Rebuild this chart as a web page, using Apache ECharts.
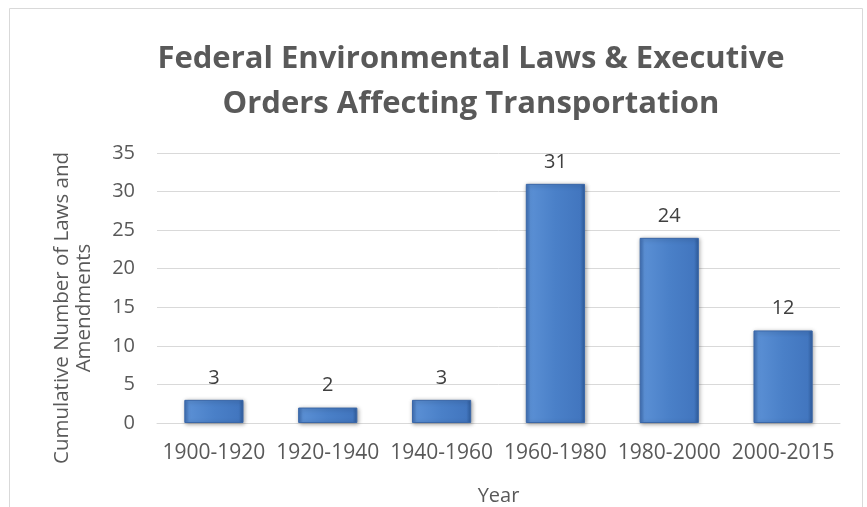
<!DOCTYPE html>
<html>
<head>
<meta charset="utf-8">
<script src="https://cdn.jsdelivr.net/npm/echarts@6/dist/echarts.min.js"></script>
<style>
  html, body { margin: 0; padding: 0; background: #fff; }
  #chart { width: 867px; height: 507px; }
</style>
</head>
<body>
<div id="chart"></div>
<script>
// 数据
const periods = ['1900-1920', '1920-1940', '1940-1960', '1960-1980', '1980-2000', '2000-2015']
const lawCounts = [3, 2, 3, 31, 24, 12]
const yTicks = { min: 0, max: 35, interval: 5 }

const myChart = echarts.init(document.getElementById('chart'))
const font = 'Open Sans'
const textColor = '#595959'

const barColor = new echarts.graphic.LinearGradient(0, 0, 1, 0, [
  { offset: 0, color: '#3f6fb5' },
  { offset: 0.08, color: '#5a8fd4' },
  { offset: 0.5, color: '#4a80c8' },
  { offset: 0.92, color: '#4276bf' },
  { offset: 1, color: '#2f5d9e' }
])

var option = {
  backgroundColor: '#fff',
  animation: false,
  title: {
    text: 'Federal Environmental Laws & Executive\nOrders Affecting Transportation',
    left: 466,
    top: 32,
    textAlign: 'center',
    textStyle: {
      fontFamily: font,
      fontWeight: 'bold',
      fontSize: 31,
      lineHeight: 45,
      color: textColor
    }
  },
  graphic: [
    {
      type: 'rect',
      shape: { x: 9.5, y: 8.5, width: 853, height: 520 },
      style: { fill: 'none', stroke: '#d9d9d9', lineWidth: 1 },
      silent: true
    }
  ],
  grid: { left: 157, right: 27, top: 153, bottom: 84, outerBoundsMode: 'none' },
  xAxis: {
    type: 'category',
    data: periods,
    name: 'Year',
    nameLocation: 'middle',
    nameGap: 63,
    nameTextStyle: { fontFamily: font, fontSize: 20, color: textColor },
    axisLine: { lineStyle: { color: '#d9d9d9', width: 1 } },
    axisTick: { show: false },
    axisLabel: { interval: 0, fontFamily: font, fontSize: 21, color: textColor, margin: 20 }
  },
  yAxis: {
    type: 'value',
    min: yTicks.min,
    max: yTicks.max,
    interval: yTicks.interval,
    name: 'Cumulative Number of Laws and\nAmendments',
    nameLocation: 'middle',
    nameGap: 62,
    nameTextStyle: { fontFamily: font, fontSize: 20.5, color: textColor, lineHeight: 22, padding: [0, 40, 0, 0] },
    axisLine: { show: false },
    axisTick: { show: false },
    splitLine: { lineStyle: { color: '#d9d9d9', width: 1 } },
    axisLabel: { fontFamily: font, fontSize: 20, color: textColor, margin: 22 }
  },
  series: [
    {
      type: 'bar',
      data: lawCounts,
      barWidth: '52%',
      itemStyle: {
        color: barColor,
        borderColor: '#3a67a8',
        borderWidth: 1,
        shadowColor: 'rgba(0,0,0,0.35)',
        shadowBlur: 4,
        shadowOffsetX: 1,
        shadowOffsetY: 1
      },
      label: {
        show: true,
        position: 'top',
        distance: 12,
        fontFamily: font,
        fontSize: 20,
        color: '#404040'
      }
    }
  ]
}

myChart.setOption(option)
</script>
</body>
</html>
